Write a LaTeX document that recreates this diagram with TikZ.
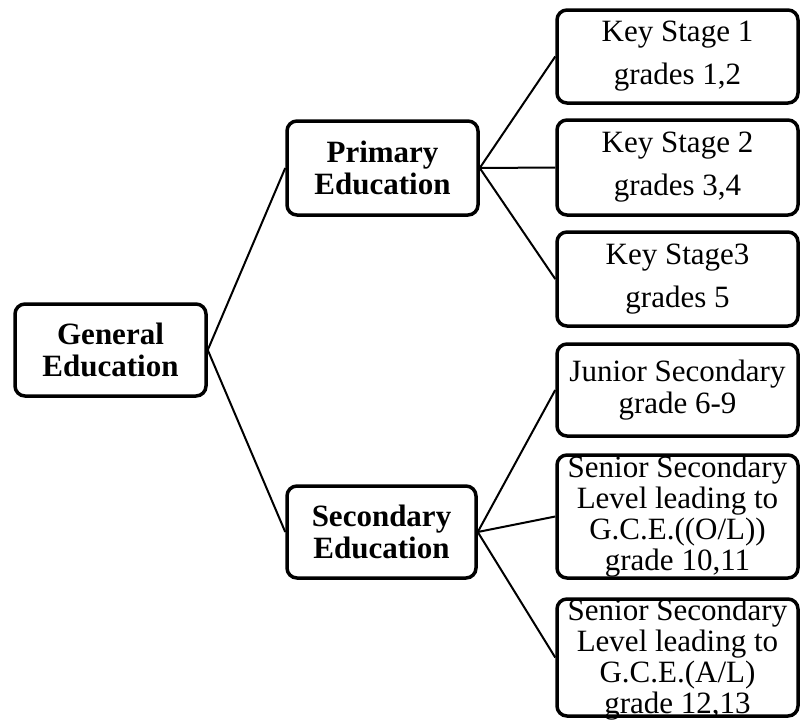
\documentclass[tikz,border=0pt]{standalone}
\usepackage{fontspec}
\setmainfont{Liberation Serif}
\begin{document}
\begin{tikzpicture}[x=1pt,y=-1pt,
  box/.style={draw=black,line width=3.5pt,rounded corners=10pt,inner sep=0pt,align=center,fill=white},
  lbox/.style={box,minimum width=191pt,font=\fontsize{31}{32}\selectfont\bfseries},
  rbox/.style={box,minimum width=241pt},
  ksfont/.style={font=\fontsize{31}{43}\selectfont},
  sfont/.style={font=\fontsize{31}{31}\selectfont},
  txt/.style={inner sep=0pt,align=center},
  conn/.style={draw=black,line width=2pt}]
\useasboundingbox (0,0) rectangle (803,720);
% left column
\node[lbox,minimum height=92pt] (gen) at (110.5,350) {General\\Education};
\node[lbox,minimum height=94pt] (prim) at (382.5,168) {Primary\\Education};
\node[lbox,minimum height=92pt,minimum width=189pt] (sec) at (381.5,532) {Secondary\\Education};
% right column
\node[rbox,ksfont,minimum height=93pt] (ks1) at (677.5,56.5) {Key Stage 1\\grades 1,2};
\node[rbox,ksfont,minimum height=95pt] (ks2) at (677.5,167.5) {Key Stage 2\\grades 3,4};
\node[rbox,ksfont,minimum height=94pt] (ks3) at (677.5,279) {Key Stage3\\grades 5};
\node[rbox,font=\fontsize{31}{32}\selectfont,minimum height=92pt] (jun) at (677.5,390) {Junior Secondary\\grade 6-9};
\node[rbox,sfont,minimum height=123pt] (sen1) at (677.5,516.5) {Senior Secondary\\Level leading to\\G.C.E.((O/L))\\grade 10,11};
\node[rbox,minimum height=117pt] (sen2) at (677.5,657.5) {};
\node[txt,sfont] (sen2t) at (677.5,659.5) {Senior Secondary\\Level leading to\\G.C.E.(A/L)\\grade 12,13};
% connectors
\draw[conn] (gen.east) -- (prim.west);
\draw[conn] (gen.east) -- (sec.west);
\draw[conn] (prim.east) -- (ks1.west);
\draw[conn] (prim.east) -- (ks2.west);
\draw[conn] (prim.east) -- (ks3.west);
\draw[conn] (sec.east) -- (jun.west);
\draw[conn] (sec.east) -- (sen1.west);
\draw[conn] (sec.east) -- (sen2.west);
\end{tikzpicture}
\end{document}
